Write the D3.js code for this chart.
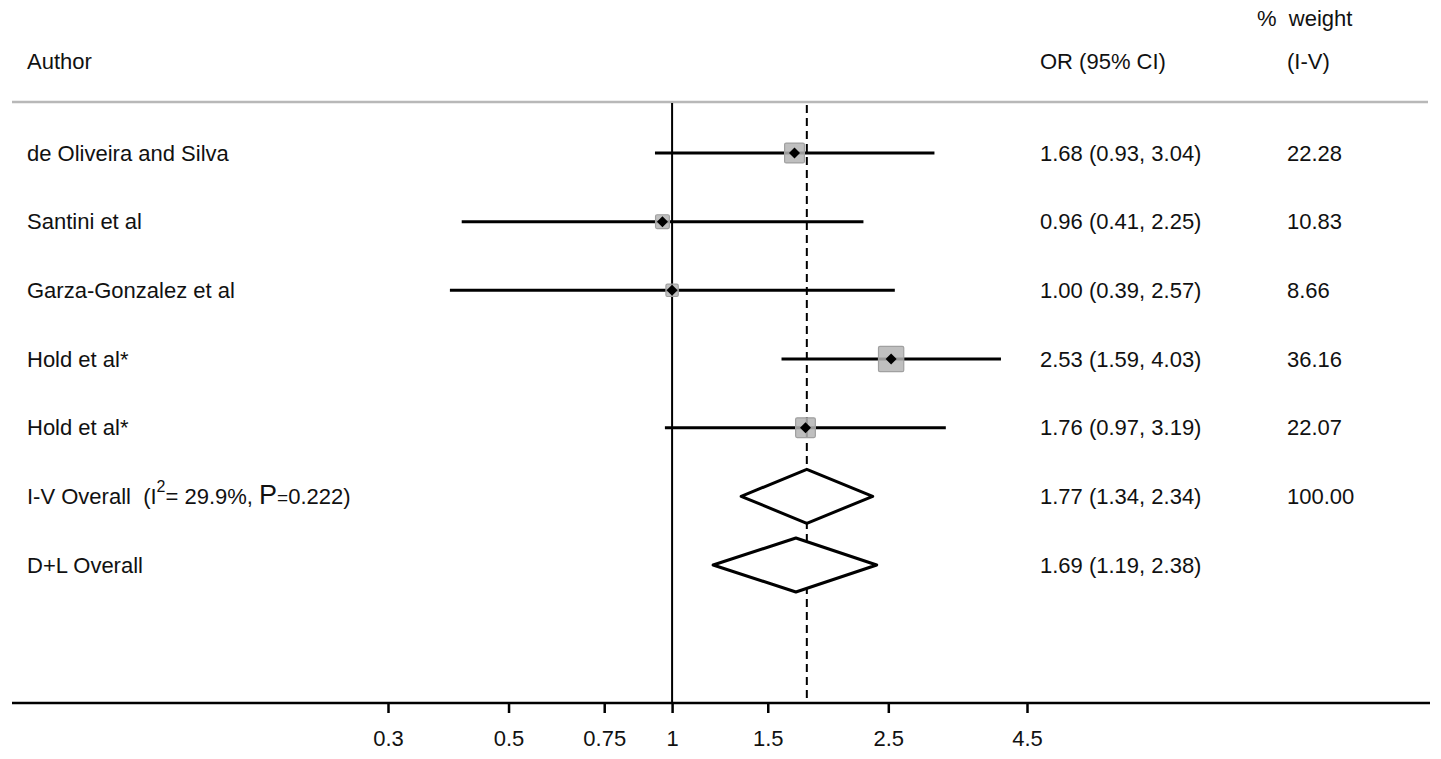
<!DOCTYPE html>
<html>
<head>
<meta charset="utf-8">
<script src="https://cdn.jsdelivr.net/npm/d3@7"></script>
<style>
  html, body { margin: 0; padding: 0; background: #ffffff; }
  svg { display: block; }
  text { font-family: "Liberation Sans", Arial, sans-serif; fill: #111; white-space: pre; }
</style>
</head>
<body>
<svg id="chart" width="1441" height="759"></svg>
<script>
// ---- data ----
const studies = ["de Oliveira and Silva", "Santini et al", "Garza-Gonzalez et al", "Hold et al*", "Hold et al*"];
const orValues = [1.68, 0.96, 1.00, 2.53, 1.76];
const ciLow = [0.93, 0.41, 0.39, 1.59, 0.97];
const ciHigh = [3.04, 2.25, 2.57, 4.03, 3.19];
const weights = [22.28, 10.83, 8.66, 36.16, 22.07];

const overallLabels = ["I-V Overall", "D+L Overall"];
const overallOR = [1.77, 1.69];
const overallLow = [1.34, 1.19];
const overallHigh = [2.34, 2.38];
const overallWeight = ["100.00", ""];
const heterogeneity = { i2: "29.9%", p: "0.222" };

const tickValues = [0.3, 0.5, 0.75, 1, 1.5, 2.5, 4.5];
const tickLabels = ["0.3", "0.5", "0.75", "1", "1.5", "2.5", "4.5"];

// ---- layout ----
const svg = d3.select("#chart");
const fs = 22;

const x = d3.scaleLog().domain([0.3, 4.5]).range([388, 1027]);
const y = d3.scaleLinear().domain([0, 6]).range([153, 565]);

const axisY = 703;
const headerLineY = 102;
const colAuthor = 27, colOR = 1040, colW = 1287;

const fmt = d3.format(".2f");

// header
svg.append("text").attr("x", colAuthor).attr("y", 61).attr("dy", "0.35em")
  .attr("font-size", fs).text("Author");
svg.append("text").attr("x", colOR).attr("y", 61).attr("dy", "0.35em")
  .attr("font-size", fs).text("OR (95% CI)");
svg.append("text").attr("x", colW).attr("y", 61).attr("dy", "0.35em")
  .attr("font-size", fs).text("(I-V)");
svg.append("text").attr("x", 1257).attr("y", 18).attr("dy", "0.35em")
  .attr("font-size", fs).text("%  weight");

svg.append("line").attr("x1", 12).attr("x2", 1428)
  .attr("y1", headerLineY).attr("y2", headerLineY)
  .attr("stroke", "#b8b8b8").attr("stroke-width", 2.5);

// reference lines
svg.append("line").attr("x1", x(1)).attr("x2", x(1))
  .attr("y1", headerLineY + 1).attr("y2", axisY)
  .attr("stroke", "#000").attr("stroke-width", 2);
svg.append("line").attr("x1", x(overallOR[0])).attr("x2", x(overallOR[0]))
  .attr("y1", headerLineY + 1).attr("y2", axisY)
  .attr("stroke", "#000").attr("stroke-width", 2)
  .attr("stroke-dasharray", "8,5").attr("stroke-dashoffset", -2);

const dotPath = "M0,-5.5L5.5,0L0,5.5L-5.5,0Z";

// study rows
const rows = svg.append("g");
studies.forEach((name, i) => {
  const yy = y(i);
  rows.append("text").attr("x", colAuthor).attr("y", yy).attr("dy", "0.35em")
    .attr("font-size", fs).text(name);
  rows.append("line").attr("x1", x(ciLow[i])).attr("x2", x(ciHigh[i]))
    .attr("y1", yy).attr("y2", yy)
    .attr("stroke", "#000").attr("stroke-width", 3);
  const side = Math.sqrt(weights[i]) * 4.2;
  rows.append("rect").attr("x", x(orValues[i]) - side / 2).attr("y", yy - side / 2)
    .attr("width", side).attr("height", side)
    .attr("fill", "#b4b4b4").attr("fill-opacity", 0.85)
    .attr("stroke", "#a0a0a0").attr("stroke-width", 1.2).attr("rx", 1.5);
  rows.append("path").attr("d", dotPath)
    .attr("transform", `translate(${x(orValues[i])},${yy})`)
    .attr("fill", "#000");
  rows.append("text").attr("x", colOR).attr("y", yy).attr("dy", "0.35em")
    .attr("font-size", fs)
    .text(`${fmt(orValues[i])} (${fmt(ciLow[i])}, ${fmt(ciHigh[i])})`);
  rows.append("text").attr("x", colW).attr("y", yy).attr("dy", "0.35em")
    .attr("font-size", fs).text(fmt(weights[i]));
});

// overall rows
overallLabels.forEach((lab, j) => {
  const yy = y(studies.length + j);
  const t = svg.append("text").attr("x", colAuthor).attr("y", yy).attr("dy", "0.35em")
    .attr("font-size", fs);
  if (j === 0) {
    t.append("tspan").text(lab + "  (I");
    t.append("tspan").attr("font-size", 16).attr("dy", "-0.75em").text("2");
    t.append("tspan").attr("dy", "0.55em").text("= " + heterogeneity.i2 + ", ");
    t.append("tspan").attr("font-size", 27).text("P");
    t.append("tspan").attr("font-size", 19).text("=");
    t.append("tspan").text(heterogeneity.p + ")");
  } else {
    t.text(lab);
  }
  const h = 27;
  const pts = [
    [x(overallLow[j]), yy], [x(overallOR[j]), yy - h],
    [x(overallHigh[j]), yy], [x(overallOR[j]), yy + h]
  ];
  svg.append("path").attr("d", d3.line()(pts) + "Z")
    .attr("fill", "#fff").attr("stroke", "#000").attr("stroke-width", 3)
    .attr("stroke-linejoin", "round");
  svg.append("text").attr("x", colOR).attr("y", yy).attr("dy", "0.35em")
    .attr("font-size", fs)
    .text(`${fmt(overallOR[j])} (${fmt(overallLow[j])}, ${fmt(overallHigh[j])})`);
  svg.append("text").attr("x", colW).attr("y", yy).attr("dy", "0.35em")
    .attr("font-size", fs).text(overallWeight[j]);
});

// x axis
svg.append("line").attr("x1", 12).attr("x2", 1430)
  .attr("y1", axisY).attr("y2", axisY)
  .attr("stroke", "#000").attr("stroke-width", 2.5);
const axis = d3.axisBottom(x).tickValues(tickValues)
  .tickFormat((d, i) => tickLabels[i]).tickSize(10).tickPadding(17).tickSizeOuter(0);
const ag = svg.append("g").attr("transform", `translate(0,${axisY})`).call(axis);
ag.select(".domain").remove();
ag.selectAll(".tick line").attr("stroke", "#000").attr("stroke-width", 2.5);
ag.selectAll(".tick text").attr("font-size", 22).attr("fill", "#111")
  .style("font-family", '"Liberation Sans", Arial, sans-serif');
</script>
</body>
</html>
